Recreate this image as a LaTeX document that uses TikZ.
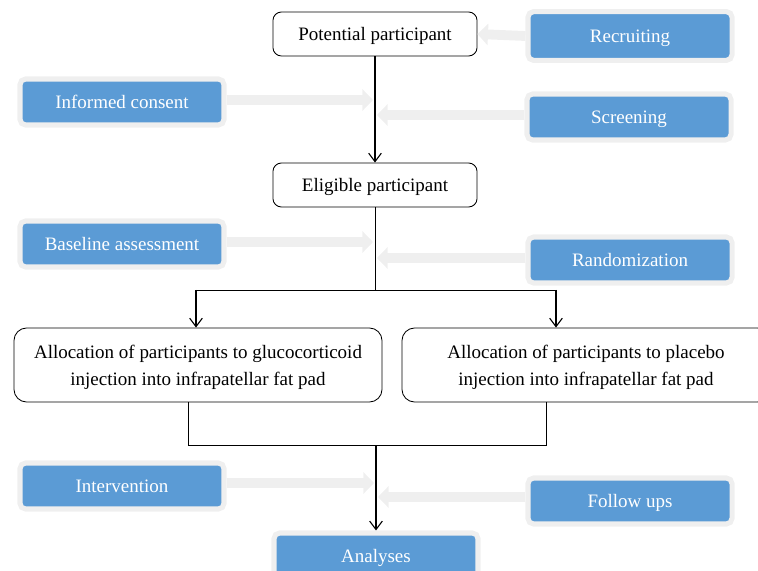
\documentclass[tikz,border=0pt]{standalone}
\usepackage{fontspec}
\setmainfont{Liberation Serif}
\usetikzlibrary{arrows.meta}
\definecolor{boxblue}{HTML}{5B9BD5}
\definecolor{ringgray}{HTML}{EFEFEF}

\begin{document}
\begin{tikzpicture}[x=0.025cm,y=-0.025cm,
  every node/.style={font=\fontsize{13.5}{19}\selectfont},
  stage/.style={draw=black,line width=0.6pt,fill=white,rounded corners=6pt,align=center,inner sep=0pt,text depth=0pt},
  task/.style={fill=boxblue,draw=ringgray,line width=3.6pt,rounded corners=4pt,text=white,minimum width=5.1cm,minimum height=1.15cm,inner sep=0pt,text depth=0pt},
  flow/.style={-{Straight Barb[length=6pt,width=9pt]},line width=0.8pt},
  feed/.style={-{Triangle[length=7.5pt,width=15pt]},draw=ringgray,line width=7pt}]
  \useasboundingbox (0,0) rectangle (758,571);
  \clip (0,0) rectangle (758,571);
  % -=-=-=-=- MAIN FLOW -=-=-=-=-
  \node[stage,minimum width=5.1cm,minimum height=1.1cm] (pot) at (375,34) {Potential participant};
  \node[stage,minimum width=5.1cm,minimum height=1.1cm] (eli) at (375,185) {Eligible participant};
  \node[stage,minimum width=9.2cm,minimum height=1.85cm,rounded corners=9pt] (allocG) at (198,365)
    {Allocation of participants to glucocorticoid\\injection into infrapatellar fat pad};
  \node[stage,minimum width=9.2cm,minimum height=1.85cm,rounded corners=9pt] (allocP) at (586,365)
    {Allocation of participants to placebo\\injection into infrapatellar fat pad};
  \node[task] (ana) at (376,556) {Analyses};
  \coordinate (split) at (375,290);
  \coordinate (jl) at (196,290);
  \coordinate (jr) at (556,290);
  \coordinate (ml) at (188,445);
  \coordinate (mr) at (546,445);
  \coordinate (mid) at (376,445);
  \draw[flow] (pot) -- (eli);
  \draw[line width=0.6pt] (eli) -- (split);
  \draw[line width=0.6pt] (jl) -- (jr);
  \draw[flow] (jl) -- (jl |- allocG.north);
  \draw[flow] (jr) -- (jr |- allocP.north);
  \draw[line width=0.6pt] (allocG.south -| ml) -- (ml) -- (mr) -- (allocP.south -| mr);
  \draw[flow] (mid) -- (ana);
  % -=-=-=-=- SIDE TASKS -=-=-=-=-
  \node[task,minimum height=1.22cm] (rec) at (630,36) {Recruiting};
  \node[task] (inf) at (122,102) {Informed consent};
  \node[task] (scr) at (629,117) {Screening};
  \node[task] (bas) at (122,244) {Baseline assessment};
  \node[task] (ran) at (630,260) {Randomization};
  \node[task] (int) at (122,486) {Intervention};
  \node[task] (fol) at (630,501) {Follow ups};
  \coordinate (c1) at (373,100);
  \coordinate (c2) at (377,115);
  \coordinate (c3) at (373,242);
  \coordinate (c4) at (377,258);
  \coordinate (c5) at (374,483);
  \coordinate (c6) at (378,497);
  \draw[feed] (rec.west) -- (pot.east);
  \draw[feed] (inf.east |- c1) -- (c1);
  \draw[feed] (scr.west |- c2) -- (c2);
  \draw[feed] (bas.east |- c3) -- (c3);
  \draw[feed] (ran.west |- c4) -- (c4);
  \draw[feed] (int.east |- c5) -- (c5);
  \draw[feed] (fol.west |- c6) -- (c6);
\end{tikzpicture}
\end{document}
